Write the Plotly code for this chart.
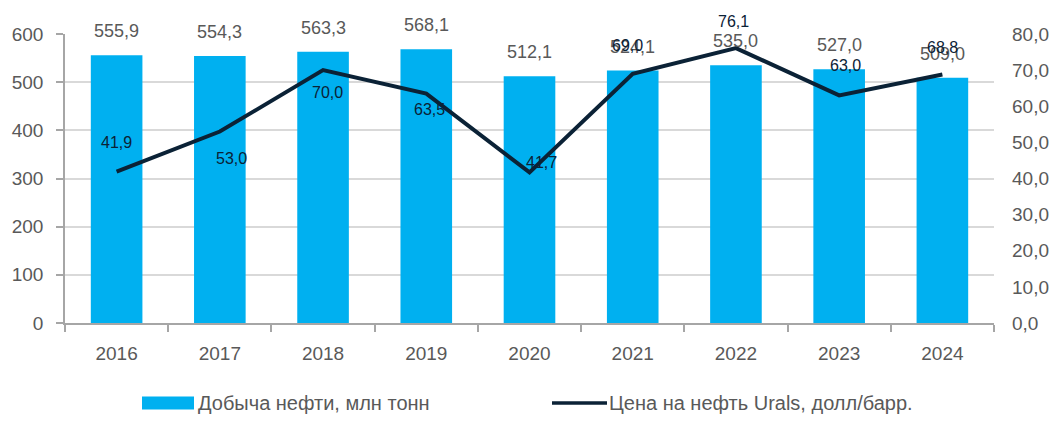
import plotly.graph_objects as go

years = ["2016", "2017", "2018", "2019", "2020", "2021", "2022", "2023", "2024"]
production = [555.9, 554.3, 563.3, 568.1, 512.1, 524.1, 535.0, 527.0, 509.0]
urals = [41.9, 53.0, 70.0, 63.5, 41.7, 69.0, 76.1, 63.0, 68.8]
left_ticks = [0, 100, 200, 300, 400, 500, 600]
right_ticks = [0, 10, 20, 30, 40, 50, 60, 70, 80]

name_bar = "Добыча нефти, млн тонн"
name_line = "Цена на нефть Urals, долл/барр."

# label offsets for line labels (px, yshift positive = up)
line_dx = [0, 12, 4, 3, 12, -5, -2, 6, 0]
line_dy = [29, -27, -22, -16, 10, 28, 27, 30, 27]

FONT = "Liberation Sans, Arial, sans-serif"
GRAY = "#595959"
AXIS = "#a6a6a6"
BAR_C = "#00b0f0"
LINE_C = "#0b2236"

# the page body has an 8px margin on every side, so keep the figure inside it
OFF = 8
W, H = 1058 - 2 * OFF, 424 - 2 * OFF
ML, MT = 65 - OFF, 34 - OFF
MR = W - (994 - OFF)
MB = H - (323 - OFF)
PW, PH = W - ML - MR, H - MT - MB


def px(xs):
    # screen x -> paper
    return (xs - OFF - ML) / PW


def py(ys):
    # screen y -> paper
    return (H - MB - (ys - OFF)) / PH


def fmt(v):
    return f"{v:.1f}".replace(".", ",")


fig = go.Figure()
fig.add_trace(go.Bar(
    x=years, y=production, name=name_bar,
    marker=dict(color=BAR_C, line=dict(width=0)),
    width=0.5, showlegend=False,
))
fig.add_trace(go.Scatter(
    x=years, y=urals, name=name_line, yaxis="y2", mode="lines",
    line=dict(color=LINE_C, width=4), showlegend=False,
))

# bar value labels (category index on x)
for i, v in enumerate(production):
    fig.add_annotation(
        x=i, y=v, xref="x", yref="y", text=fmt(v), showarrow=False,
        yshift=24, font=dict(family=FONT, size=18, color=GRAY),
    )

# line value labels
for i, v in enumerate(urals):
    fig.add_annotation(
        x=i, y=v, xref="x", yref="y2", text=fmt(v), showarrow=False,
        xshift=line_dx[i], yshift=line_dy[i],
        font=dict(family=FONT, size=16, color=LINE_C),
    )

# legend drawn manually
LEG_Y = 403
fig.add_shape(type="rect", xref="paper", yref="paper",
              x0=px(142), x1=px(194), y0=py(LEG_Y + 6.5), y1=py(LEG_Y - 6.5),
              fillcolor=BAR_C, line=dict(width=0))
fig.add_annotation(xref="paper", yref="paper", x=px(196), y=py(LEG_Y),
                   xanchor="left", yanchor="middle", text=name_bar, showarrow=False,
                   font=dict(family=FONT, size=20, color=GRAY))
fig.add_shape(type="line", xref="paper", yref="paper",
              x0=px(552), x1=px(607), y0=py(LEG_Y), y1=py(LEG_Y),
              line=dict(color=LINE_C, width=3.5))
fig.add_annotation(xref="paper", yref="paper", x=px(607), y=py(LEG_Y),
                   xanchor="left", yanchor="middle", text=name_line, showarrow=False,
                   font=dict(family=FONT, size=20, color=GRAY))

fig.update_layout(
    width=W, height=H,
    margin=dict(l=ML, r=MR, t=MT, b=MB, autoexpand=False),
    plot_bgcolor="white", paper_bgcolor="white",
    font=dict(family=FONT, size=19, color=GRAY),
    showlegend=False,
    xaxis=dict(
        type="category", range=[-0.5, len(years) - 0.5], automargin=False,
        showline=True, linecolor=AXIS, linewidth=1.5,
        ticks="outside", tickson="boundaries", ticklen=7, tickcolor=AXIS, tickwidth=1.5,
        tickfont=dict(family=FONT, size=19, color=GRAY),
        ticklabelstandoff=12,
        showgrid=False,
    ),
    yaxis=dict(
        range=[0, 600], tickvals=left_ticks, automargin=False,
        showline=True, linecolor=AXIS, linewidth=1.5,
        ticks="outside", ticklen=7, tickcolor=AXIS, tickwidth=1.5,
        gridcolor="#d9d9d9", gridwidth=1.5,
        tickfont=dict(family=FONT, size=19, color=GRAY),
        ticklabelstandoff=9,
        zeroline=False,
    ),
    yaxis2=dict(
        range=[0, 80], tickvals=right_ticks, automargin=False,
        ticktext=[fmt(v) for v in right_ticks],
        overlaying="y", side="right", showgrid=False, zeroline=False,
        showline=False, ticks="",
        tickfont=dict(family=FONT, size=19, color=GRAY),
        ticklabelstandoff=17,
    ),
)

fig.write_html("out.html")
